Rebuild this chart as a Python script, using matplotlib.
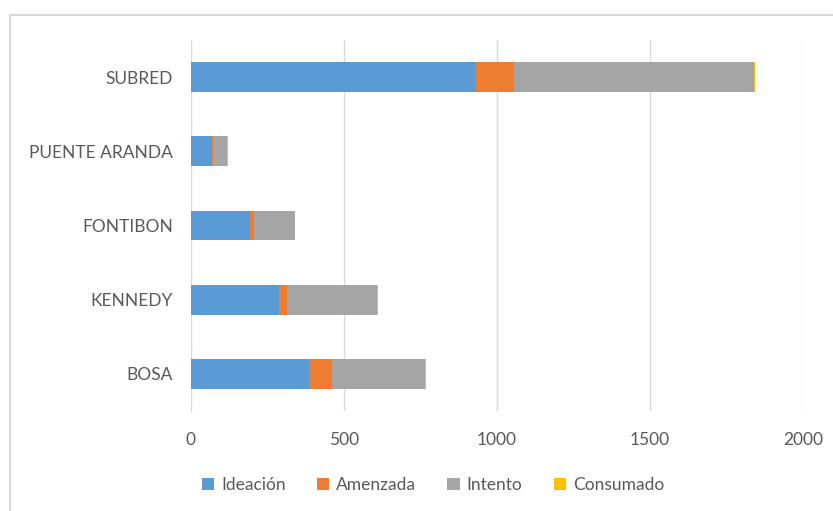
import numpy as np
import matplotlib
matplotlib.use("Agg")
import matplotlib.pyplot as plt
from matplotlib.lines import Line2D

categories = ["BOSA", "KENNEDY", "FONTIBON", "PUENTE ARANDA", "SUBRED"]
ideacion = [385, 287, 192, 67, 930]
amenazada = [77, 26, 15, 5, 124]
intento = [303, 295, 134, 47, 785]
consumado = [4, 4, 0, 3, 5]

series = ["Ideación", "Amenzada", "Intento", "Consumado"]
colors = ["#5b9bd5", "#ed7d31", "#a5a5a5", "#ffc000"]
text_color = "#595959"

plt.rcParams["font.family"] = ["Lato", "DejaVu Sans"]

fig = plt.figure(figsize=(8.33, 5.11), dpi=100)
ax = fig.add_axes([191 / 833, 1 - 411 / 511, 612 / 833, 371 / 511])

y = np.arange(len(categories))
left = np.zeros(len(categories))
for name, vals, c in zip(series, [ideacion, amenazada, intento, consumado], colors):
    ax.barh(y, vals, left=left, height=0.4, color=c, label=name, zorder=3)
    left += np.array(vals)

ax.set_xlim(0, 2000)
ax.set_ylim(-0.5, len(categories) - 0.5)
ax.set_xticks([0, 500, 1000, 1500, 2000])
ax.set_yticks(y)
ax.set_yticklabels(categories)
ax.grid(axis="x", color="#d9d9d9", linewidth=1, zorder=0)
for s in ["top", "right", "bottom"]:
    ax.spines[s].set_visible(False)
ax.spines["left"].set_color("#d9d9d9")
ax.tick_params(axis="both", length=0, labelsize=12.5, labelcolor=text_color)
ax.tick_params(axis="y", pad=13)
ax.tick_params(axis="x", pad=15)

fig.legend(loc="center", bbox_to_anchor=(433 / 833, 1 - 485 / 511), ncol=4, frameon=False,
           fontsize=12.5, labelcolor=text_color, handlelength=0.7, handleheight=0.7,
           handletextpad=0.4, columnspacing=1.8)

fig.add_artist(Line2D([10 / 833, 10 / 833], [0, 1 - 15 / 511], transform=fig.transFigure,
                      color="#d9d9d9", linewidth=1.5))
fig.add_artist(Line2D([10 / 833, 1], [1 - 15 / 511, 1 - 15 / 511], transform=fig.transFigure,
                      color="#d9d9d9", linewidth=1.5))

fig.savefig("out.png", dpi=100)
